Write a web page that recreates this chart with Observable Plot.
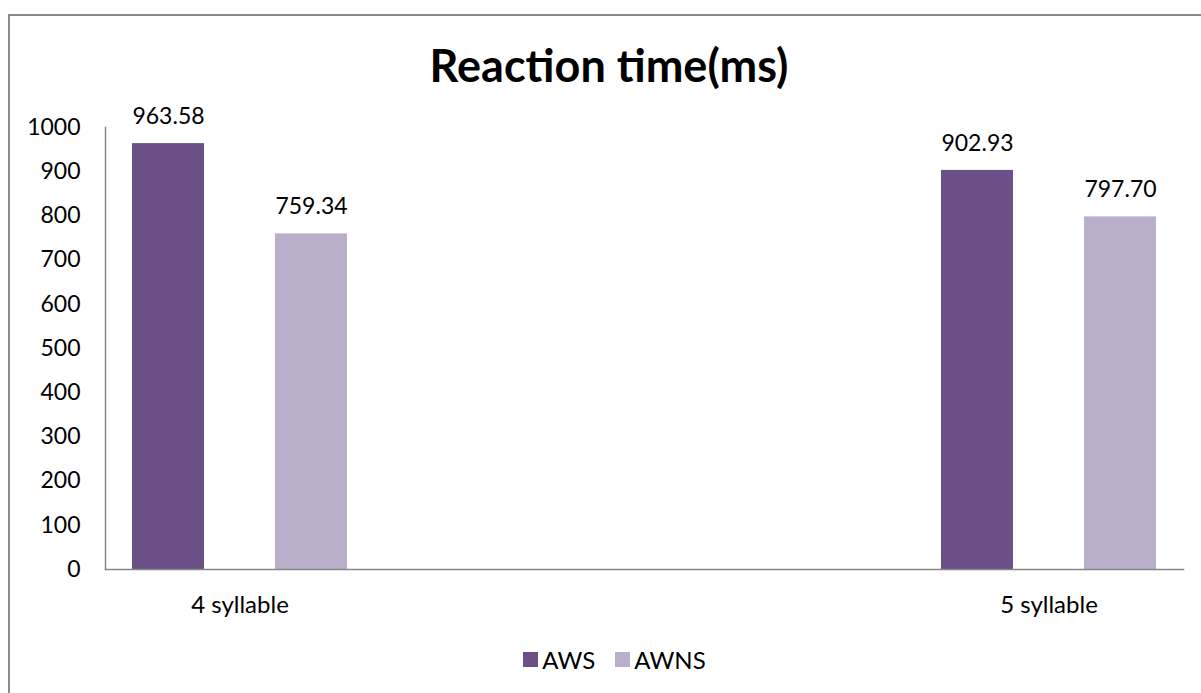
<!DOCTYPE html>
<html>
<head>
<meta charset="utf-8">
<script src="https://cdn.jsdelivr.net/npm/d3@7"></script>
<script src="https://cdn.jsdelivr.net/npm/@observablehq/plot@0.6"></script>
<style>
  html, body { margin: 0; padding: 0; background: #fff; overflow: hidden; }
  body { font-family: Lato, "Open Sans", sans-serif; color: #000; }
  #border { position: absolute; left: 8px; top: 14px; width: 3000px; height: 3000px;
            border-top: 2px solid #8a8a8a; border-left: 2px solid #8a8a8a; pointer-events: none; }
  #chart { position: relative; width: 1201px; }
  #title { font-family: Lato, sans-serif; font-weight: bold; font-size: 45px; line-height: 54px;
           padding-top: 38px; padding-left: 17px; text-align: center; margin: 0; }
  #legend { margin-top: 14px; padding-left: 48px; display: flex; justify-content: center; }
  .lg-swatches { font-family: Lato, sans-serif !important; font-size: 24px !important; color: #000 !important;
                 margin: 0 !important; justify-content: center; }
  .lg-swatch { margin-right: 20px !important; }
  .lg-swatch > svg { margin-right: 4px !important; }
</style>
</head>
<body>
<div id="border"></div>
<div id="chart">
  <div id="title">Reaction time(ms)</div>
  <div id="plot"></div>
  <div id="legend"></div>
</div>
<script>
// Mean reaction times (ms) per word length and condition
const categories = ["4 syllable", "5 syllable"];
const seriesNames = ["AWS", "AWNS"];
const awsValues = [963.58, 902.93];
const awnsValues = [759.34, 797.70];
const seriesColors = ["#6A5087", "#BAAFCB"];
const yTicks = [0, 100, 200, 300, 400, 500, 600, 700, 800, 900, 1000];

const rows = categories.flatMap((category, i) => [
  {category, series: seriesNames[0], value: awsValues[i]},
  {category, series: seriesNames[1], value: awnsValues[i]}
]);

const axisColor = "#868686";

const chart = Plot.plot({
  width: 1201,
  height: 537,
  marginTop: 35,
  marginBottom: 60,
  marginLeft: 105,
  marginRight: 18,
  style: {fontFamily: "Lato, sans-serif", fontSize: "23px", color: "#000", background: "transparent", overflow: "visible"},
  fx: {domain: categories, paddingInner: 0.6675, paddingOuter: 0},
  x: {domain: seriesNames, paddingInner: 0.5, paddingOuter: 0.1875, axis: null},
  y: {domain: [0, 1000]},
  color: {domain: seriesNames, range: seriesColors},
  marks: [
    Plot.barY(rows, {fx: "category", x: "series", y: "value", fill: "series"}),
    Plot.text(rows, {
      fx: "category", x: "series", y: "value",
      text: d => d.value.toFixed(2),
      dy: -27, fontSize: 23, fill: "#000"
    }),
    Plot.axisY({ticks: yTicks, tickSize: 0, tickPadding: 25, fontSize: 23, label: null, tickFormat: d => String(d)}),
    Plot.axisFx({anchor: "bottom", tickSize: 0, tickPadding: 26, fontSize: 24, label: null}),
    Plot.frame({anchor: "left", facet: "super", stroke: axisColor, strokeWidth: 1.5}),
    Plot.frame({anchor: "bottom", facet: "super", stroke: axisColor, strokeWidth: 1.5})
  ]
});
document.getElementById("plot").append(chart);

const legend = Plot.legend({
  color: {type: "ordinal", domain: seriesNames, range: seriesColors},
  legend: "swatches",
  swatchSize: 15,
  className: "lg"
});
document.getElementById("legend").append(legend);
</script>
</body>
</html>
